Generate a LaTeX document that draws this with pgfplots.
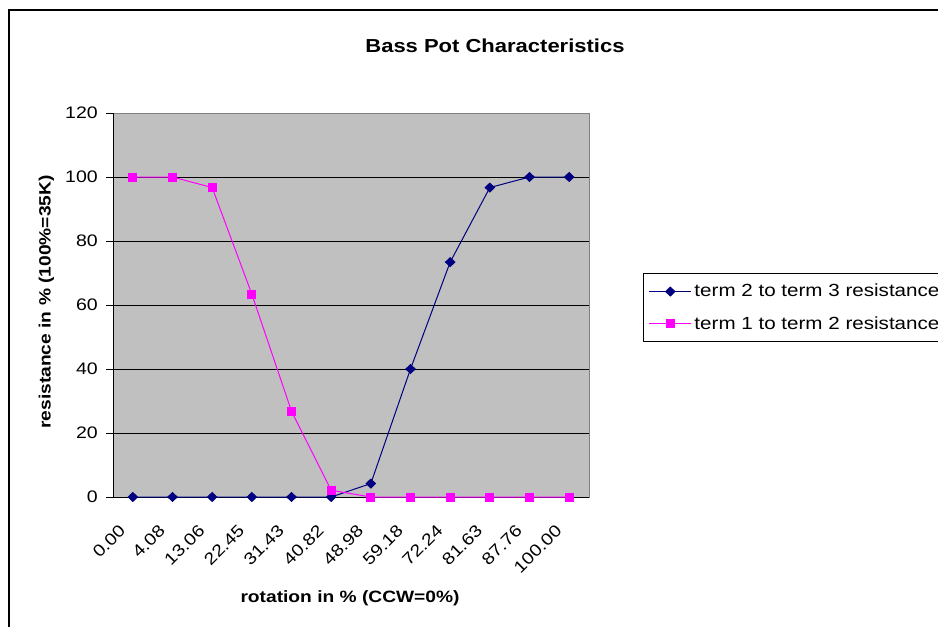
\documentclass[border=0pt]{standalone}
\usepackage{pgfplots}
\pgfplotsset{compat=1.18}
\usepackage{fontspec}
\setmainfont{Liberation Sans}[FakeStretch=1.17]
\definecolor{navyc}{RGB}{0,0,128}
\definecolor{magc}{RGB}{255,0,255}
\definecolor{plotgray}{RGB}{192,192,192}
\definecolor{bordergray}{RGB}{128,128,128}
\begin{document}
\begin{tikzpicture}[x=1pt,y=1pt]
\useasboundingbox (0,0) rectangle (703.5,469.5);
\begin{scope}
\clip (0,0) rectangle (703.5,469.5);
\draw[line width=1.5pt] (6.75,462) rectangle (760,-40);
\end{scope}
\begin{axis}[
  at={(84.75pt,96.75pt)}, anchor=south west,
  scale only axis, width=357pt, height=288pt,
  xmin=-0.5, xmax=11.5, ymin=0, ymax=120,
  axis background/.style={fill=plotgray, draw=bordergray, line width=0.75pt},
  axis x line*=bottom, axis y line*=left,
  axis line style={black, line width=0.75pt, -},
  xtick={0,...,11},
  xticklabels={0.00,4.08,13.06,22.45,31.43,40.82,48.98,59.18,72.24,81.63,87.76,100.00},
  minor xtick={-0.5,0.5,...,11.5},
  ytick={0,20,...,100},
  extra y ticks={120},
  extra y tick style={grid=none},
  ymajorgrids,
  major grid style={black, line width=0.75pt},
  tick align=outside,
  xtick style={draw=none},
  minor x tick style={black, line width=0.75pt},
  minor tick length=5.25pt,
  ytick style={black, line width=0.75pt},
  major tick length=5.25pt,
  /pgf/number format/assume math mode=true,
  tick label style={font=\fontsize{12.5}{14}\selectfont},
  xticklabel style={xshift=-11pt, yshift=-13pt, rotate=45, anchor=north east, inner sep=1pt},
  yticklabel style={inner sep=2pt, xshift=-4pt},
  title={\textbf{Bass Pot Characteristics}},
  title style={at={(0.8025,1.153)}, anchor=center, font=\fontsize{14.1}{16}\selectfont},
  xlabel={\textbf{rotation in \% (CCW=0\%)}},
  xlabel style={at={(0.498,-0.263)}, anchor=center, font=\fontsize{12.3}{14}\selectfont},
  ylabel={\textbf{resistance in \% (100\%=35K)}},
  ylabel style={at={(-0.14,0.508)}, anchor=center, font=\fontsize{12.3}{14}\selectfont},
  legend style={at={(1.1134,0.5833)}, anchor=north west, draw=black, line width=0.75pt, fill=white,
    font=\fontsize{13.2}{15}\selectfont, row sep=9pt, inner xsep=4pt, inner ysep=6pt},
  legend cell align=left,
  legend image code/.code={\draw[mark repeat=2, mark phase=2, #1] plot coordinates {(0pt,0pt)(15.75pt,0pt)(31.5pt,0pt)};},
  clip=false,
]
\addplot[color=navyc, line width=0.75pt, mark=diamond*, mark size=3.3pt, mark options={xscale=1.4, fill=navyc}]
  coordinates {(0,0) (1,0) (2,0) (3,0) (4,0) (5,0) (6,4.2) (7,40) (8,73.4) (9,96.7) (10,100) (11,100)};
\addlegendentry{term 2 to term 3 resistance}
\addplot[color=magc, line width=0.75pt, mark=square*, mark size=3pt, mark options={fill=magc}]
  coordinates {(0,100) (1,100) (2,96.7) (3,63.4) (4,26.8) (5,2.1) (6,0) (7,0) (8,0) (9,0) (10,0) (11,0)};
\addlegendentry{term 1 to term 2 resistance}
\end{axis}
\end{tikzpicture}
\end{document}
